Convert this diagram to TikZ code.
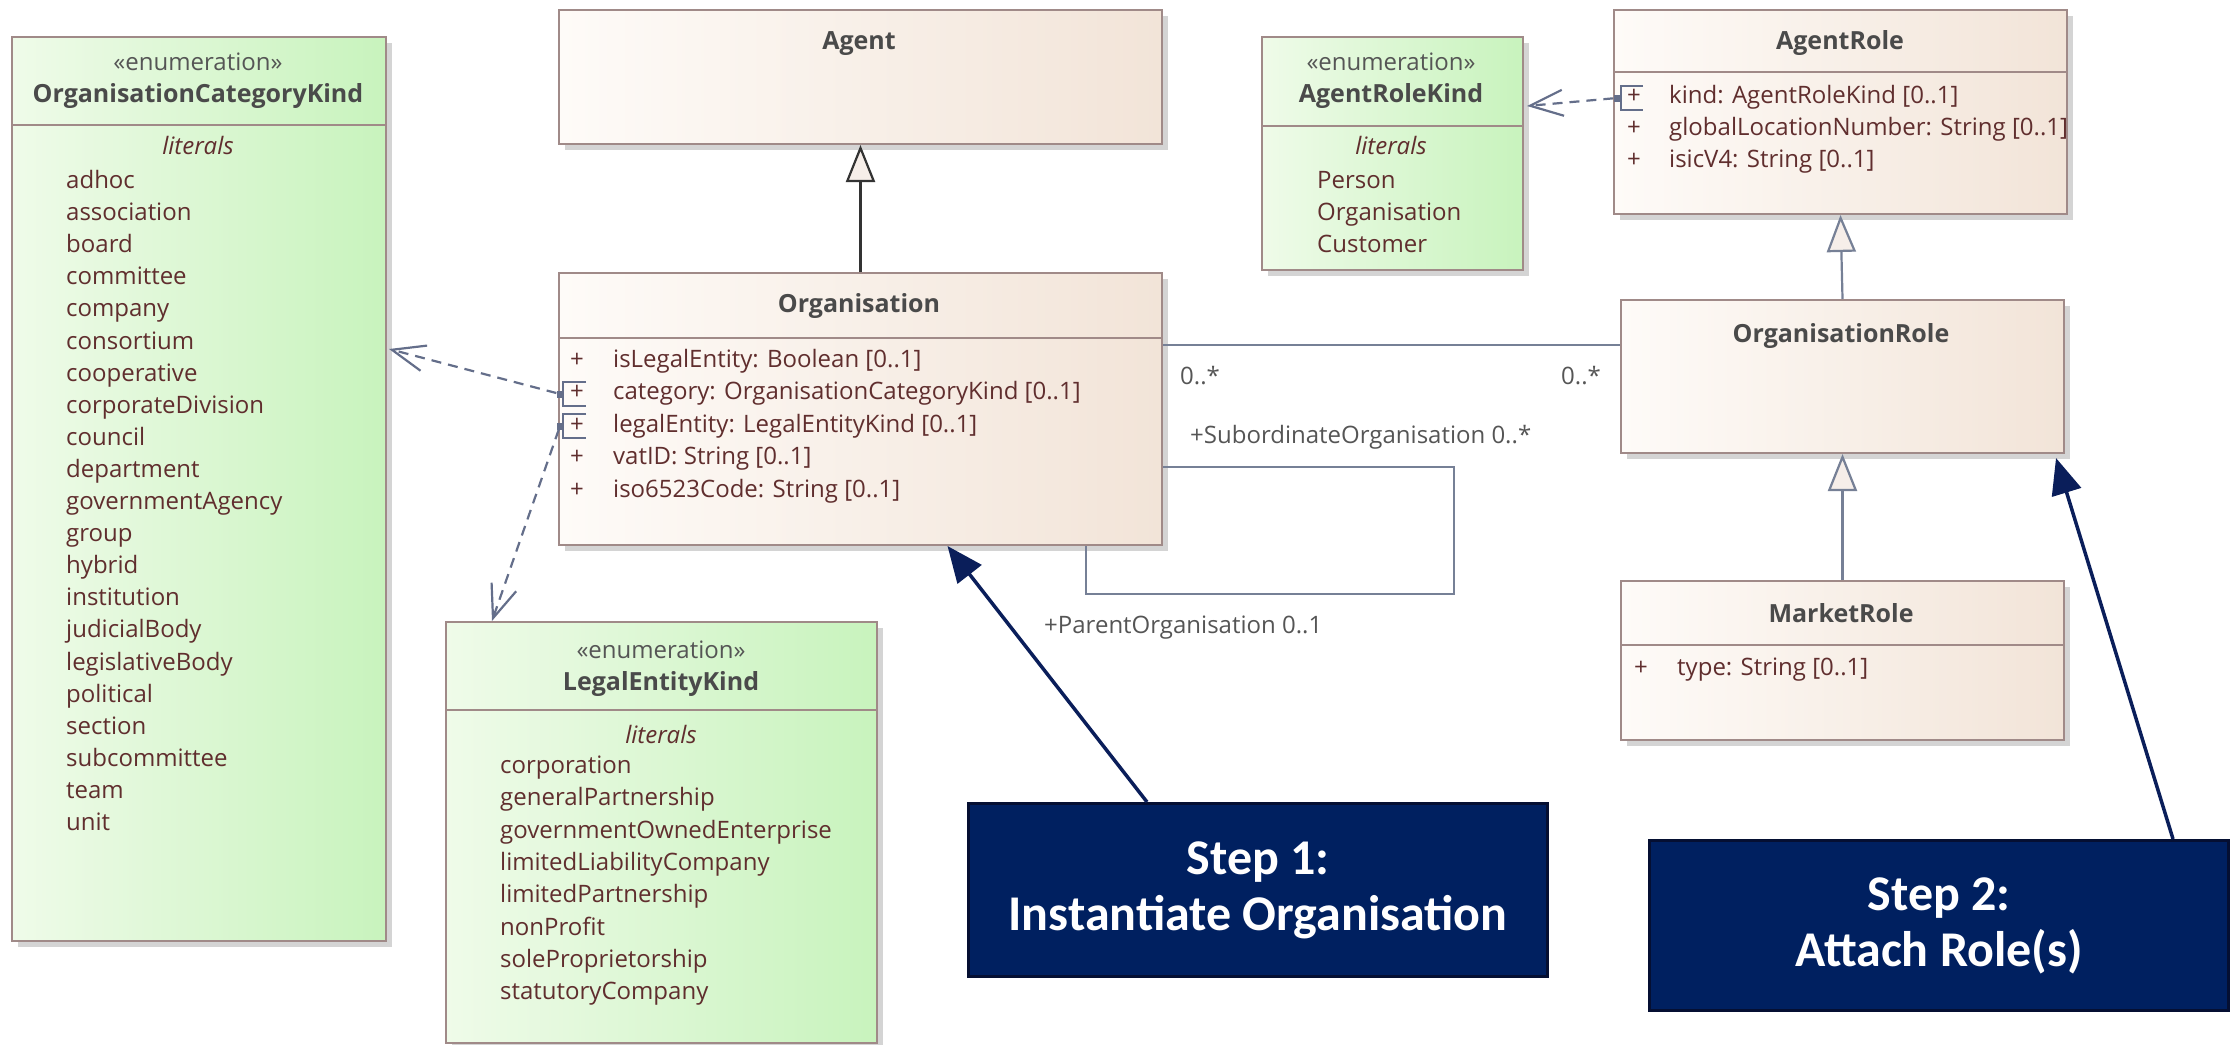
\documentclass[tikz,border=0pt]{standalone}
\usepackage{fontspec}
\setmainfont{Open Sans}
\newfontfamily\stepfont{Carlito}
\usetikzlibrary{arrows.meta,shadows}

\definecolor{boxline}{RGB}{160,138,136}
\definecolor{classL}{RGB}{254,251,248}
\definecolor{classR}{RGB}{242,228,216}
\definecolor{enumL}{RGB}{239,251,233}
\definecolor{enumR}{RGB}{200,243,189}
\definecolor{nameC}{RGB}{74,74,74}
\definecolor{attrC}{RGB}{96,46,46}
\definecolor{linkC}{RGB}{118,128,150}
\definecolor{depC}{RGB}{100,110,138}
\definecolor{labelC}{RGB}{85,85,85}
\definecolor{navyFill}{RGB}{0,32,96}
\definecolor{navyEdge}{RGB}{5,15,50}
\definecolor{arrowNavy}{RGB}{10,30,90}
\definecolor{shadowC}{RGB}{212,212,212}
\definecolor{triFill}{RGB}{246,238,233}

\newcommand\umltext{\fontsize{24}{29}\selectfont}
\newcommand\umlname{\fontsize{25}{30}\selectfont\bfseries}
\newcommand\steptext{\stepfont\fontsize{50}{56}\selectfont\bfseries}

\tikzset{
  umlbox/.style={draw=boxline, line width=2pt, anchor=north west, inner sep=0pt,
    drop shadow={shadow xshift=6pt, shadow yshift=-6pt, fill=shadowC, opacity=1}},
  classbox/.style={umlbox, left color=classL, right color=classR},
  enumbox/.style={umlbox, left color=enumL, right color=enumR},
  divider/.style={draw=boxline, line width=2pt},
  cname/.style={text=nameC, font=\umlname, inner sep=0pt, text height=18pt, text depth=5pt},
  stereo/.style={text=labelC, font=\umltext, inner sep=0pt, text height=18pt, text depth=5pt},
  litlabel/.style={text=attrC, font=\umltext\itshape, inner sep=0pt, text height=18pt, text depth=5pt},
  lit/.style={text=attrC, font=\umltext, anchor=west, inner sep=0pt, text height=18pt, text depth=5pt},
  plus/.style={text=attrC, font=\umltext, inner sep=0pt, text height=18pt, text depth=5pt},
  lbl/.style={text=labelC, font=\umltext, anchor=west, inner sep=0pt, text height=18pt, text depth=5pt},
  gen/.style={line width=2.2pt, -{Triangle[length=37pt, width=29pt, fill=triFill]}},
  assoc/.style={draw=linkC, line width=2.2pt},
  dep/.style={draw=depC, line width=2.2pt, dash pattern=on 10pt off 7pt,
    -{Straight Barb[length=33pt, width=26pt]}},
  bracket/.style={draw=depC, line width=2pt},
  port/.style={fill=depC, rectangle, minimum size=7pt, inner sep=0pt},
  stepbox/.style={fill=navyFill, draw=navyEdge, line width=3pt, anchor=north west,
    inner sep=0pt, text=white, align=center, font=\steptext},
  steparrow/.style={draw=arrowNavy, line width=3.5pt, -{Triangle[length=36pt, width=30pt]}}
}

\begin{document}
\begin{tikzpicture}[x=1pt, y=-1pt]
\useasboundingbox (0,0) rectangle (2234,1044);

% ---------- class and enumeration boxes ----------
\node[enumbox, minimum width=374pt, minimum height=904pt] (ock) at (11,36) {};
\node[classbox, minimum width=603pt, minimum height=134pt] (agent) at (558,9) {};
\node[classbox, minimum width=603pt, minimum height=272pt] (org) at (558,272) {};
\node[enumbox, minimum width=261pt, minimum height=233pt] (ark) at (1261,36) {};
\node[classbox, minimum width=453pt, minimum height=204pt] (arole) at (1613,9) {};
\node[classbox, minimum width=443pt, minimum height=153pt] (orole) at (1620,299) {};
\node[classbox, minimum width=443pt, minimum height=159pt] (mrole) at (1620,580) {};
\node[enumbox, minimum width=431pt, minimum height=421pt] (lek) at (445,621) {};

% compartment dividers
\draw[divider] (ock.west |- 0,125) -- (ock.east |- 0,125);
\draw[divider] (org.west |- 0,338) -- (org.east |- 0,338);
\draw[divider] (ark.west |- 0,126) -- (ark.east |- 0,126);
\draw[divider] (arole.west |- 0,72) -- (arole.east |- 0,72);
\draw[divider] (mrole.west |- 0,645) -- (mrole.east |- 0,645);
\draw[divider] (lek.west |- 0,710) -- (lek.east |- 0,710);

% ---------- OrganisationCategoryKind ----------
\node[stereo] (ockS) at (198,64) {«enumeration»};
\node[cname] (ockN) at (198,96) {OrganisationCategoryKind};
\node[litlabel] (ockLit) at (198,148) {literals};
\foreach \t [count=\i from 0] in {adhoc,association,board,committee,company,consortium,
  cooperative,corporateDivision,council,department,governmentAgency,group,hybrid,
  institution,judicialBody,legislativeBody,political,section,subcommittee,team,unit} {
  \node[lit] (ockL\i) at (66,{182+32.1*\i}) {\t};
}

% ---------- Agent ----------
\node[cname] (agentN) at (859,43) {Agent};

% ---------- Organisation ----------
\node[cname] (orgN) at (859,306) {Organisation};
\foreach \t [count=\i from 0] in {{isLegalEntity: Boolean [0..1]},
  {category: OrganisationCategoryKind [0..1]},{legalEntity: LegalEntityKind [0..1]},
  {vatID: String [0..1]},{iso6523Code: String [0..1]}} {
  \node[plus] (orgP\i) at (577,{361+32.4*\i}) {+};
  \node[lit] (orgA\i) at (613,{361+32.4*\i}) {\t};
}
\draw[bracket] (586,382) -- (563,382) -- (563,406) -- (586,406);
\draw[bracket] (586,414) -- (563,414) -- (563,438) -- (586,438);
\node[port] (catPort) at (560,394) {};
\node[port] (lePort) at (560,426) {};

% ---------- AgentRoleKind ----------
\node[stereo] (arkS) at (1391,64) {«enumeration»};
\node[cname] (arkN) at (1391,96) {AgentRoleKind};
\node[litlabel] (arkLit) at (1391,148) {literals};
\foreach \t [count=\i from 0] in {Person,Organisation,Customer} {
  \node[lit] (arkL\i) at (1317,{182+32.2*\i}) {\t};
}

% ---------- AgentRole ----------
\node[cname] (aroleN) at (1840,43) {AgentRole};
\foreach \t [count=\i from 0] in {{kind: AgentRoleKind [0..1]},
  {globalLocationNumber: String [0..1]},{isicV4: String [0..1]}} {
  \node[plus] (aroleP\i) at (1634,{97+32.2*\i}) {+};
  \node[lit] (aroleA\i) at (1669,{97+32.2*\i}) {\t};
}
\draw[bracket] (1643,86) -- (1621,86) -- (1621,110) -- (1643,110);
\node[port] (kindPort) at (1617,98) {};

% ---------- OrganisationRole / MarketRole ----------
\node[cname] (oroleN) at (1841,336) {OrganisationRole};
\node[cname] (mroleN) at (1841,616) {MarketRole};
\node[plus] (mroleP) at (1641,669) {+};
\node[lit] (mroleA) at (1677,669) {type: String [0..1]};

% ---------- LegalEntityKind ----------
\node[stereo] (lekS) at (661,652) {«enumeration»};
\node[cname] (lekN) at (661,684) {LegalEntityKind};
\node[litlabel] (lekLit) at (661,737) {literals};
\foreach \t [count=\i from 0] in {corporation,generalPartnership,governmentOwnedEnterprise,
  limitedLiabilityCompany,limitedPartnership,nonProfit,soleProprietorship,statutoryCompany} {
  \node[lit] (lekL\i) at (500,{767+32.3*\i}) {\t};
}

% ---------- generalisations ----------
\draw[gen, draw=black!80] (org.north) -- (agent.south);
\draw[gen, draw=linkC] (orole.north) -- (arole.south);
\draw[gen, draw=linkC] (mrole.north) -- (orole.south);

% ---------- associations ----------
\draw[assoc] ([shift={(0,73)}]org.north east) -- ([shift={(0,46)}]orole.north west);
\node[lbl] (mulA) at (1180,378) {0..*};
\node[lbl] (mulB) at (1561,378) {0..*};
\draw[assoc] ([shift={(0,195)}]org.north east) -| ([shift={(291,48)}]org.south east)
  -| ([shift={(-77,0)}]org.south east);
\node[lbl] (subLbl) at (1190,437) {+SubordinateOrganisation 0..*};
\node[lbl] (parLbl) at (1044,627) {+ParentOrganisation 0..1};

% ---------- attribute type dependencies ----------
\draw[dep] (catPort) -- ([shift={(2,313)}]ock.north east);
\draw[dep] (lePort) -- ([shift={(47,0)}]lek.north west);
\draw[dep] (kindPort) -- ([shift={(3,70)}]ark.north east);

% ---------- step call-outs ----------
\node[stepbox, minimum width=579pt, minimum height=173pt] (step1) at (967,802)
  {Step 1:\\Instantiate Organisation};
\node[stepbox, minimum width=579pt, minimum height=170pt] (step2) at (1648,839)
  {Step 2:\\Attach Role(s)};
\draw[steparrow] ([shift={(180,0)}]step1.north west) -- ([shift={(87,0)}]org.south);
\draw[steparrow] ([shift={(525,0)}]step2.north west) -- ([shift={(-9,4)}]orole.south east);
\end{tikzpicture}
\end{document}
